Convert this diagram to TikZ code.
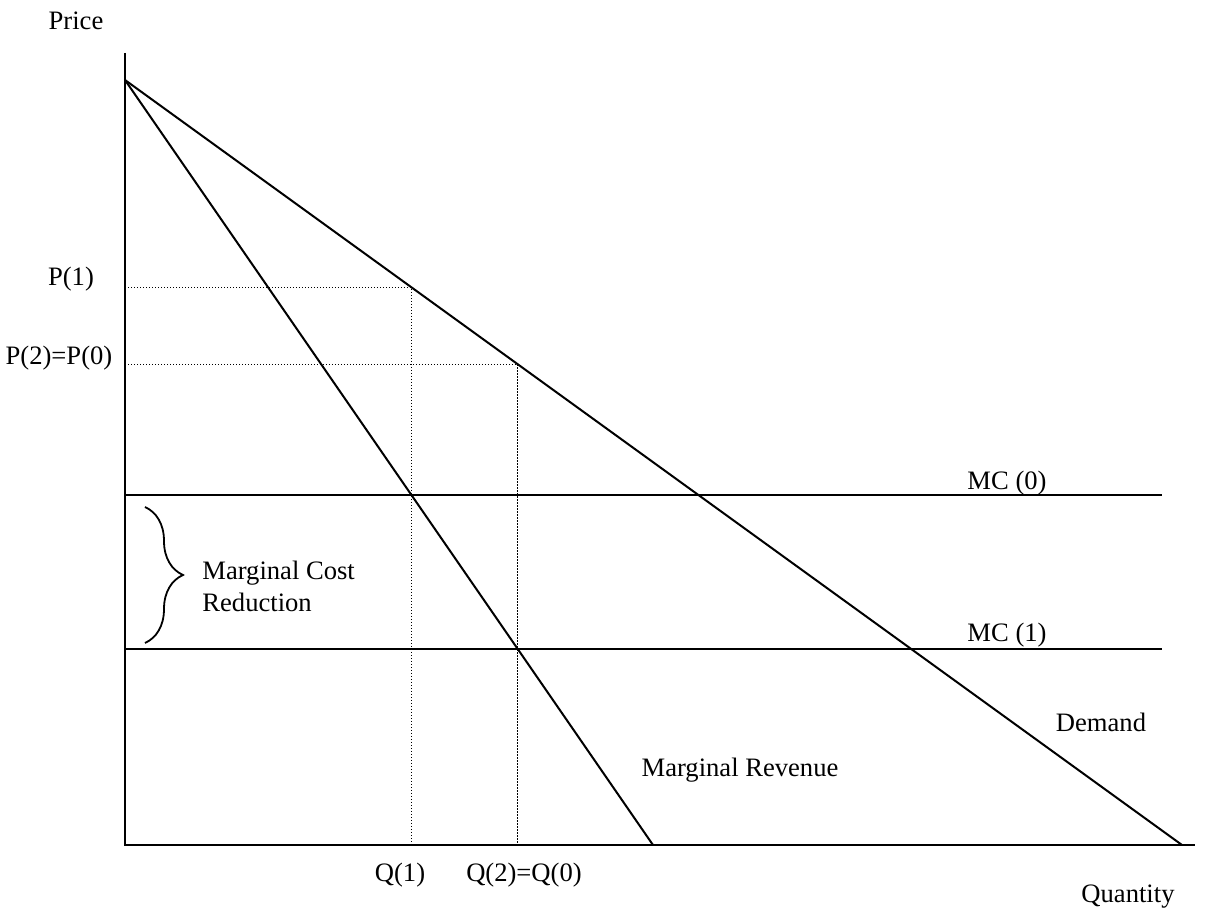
\documentclass[tikz,border=0pt]{standalone}
\usepackage{fontspec}
\setmainfont{Liberation Serif}
\usetikzlibrary{decorations.pathreplacing}

\begin{document}
\begin{tikzpicture}[x=0.5pt, y=-0.5pt,
		curve/.style={line width=1pt},
		guide/.style={line width=0.7pt, dash pattern=on 0.7pt off 0.8pt},
		lbl/.style={font=\fontsize{13.3}{16}\selectfont, inner sep=0pt}
	]
	\useasboundingbox (0,0) rectangle (1207,909);

	\coordinate (O) at (125,845);
	\coordinate (Ytop) at (125,53);
	\coordinate (Xend) at (1195,845);
	\coordinate (A) at (125,80);
	\coordinate (D) at (1182,845);
	\coordinate (MR) at (653,845);
	\coordinate (MCa) at (125,495);
	\coordinate (MCb) at (1162,495);
	\coordinate (MCc) at (125,649);
	\coordinate (MCd) at (1162,649);

	% optimum points
	\coordinate (Q1) at (intersection of A--MR and MCa--MCb);
	\coordinate (Q2) at (intersection of A--MR and MCc--MCd);
	\coordinate (Q1top) at (Q1|-Ytop);
	\coordinate (Q2top) at (Q2|-Ytop);
	\coordinate (P1) at (intersection of A--D and Q1--Q1top);
	\coordinate (P2) at (intersection of A--D and Q2--Q2top);

	\draw[curve] (Ytop) -- (O) -- (Xend);
	\draw[curve] (A) -- (D);
	\draw[curve] (A) -- (MR);
	\draw[curve] (MCa) -- (MCb);
	\draw[curve] (MCc) -- (MCd);

	\draw[guide] (P1-|O) -- (P1) -- (P1|-O);
	\draw[guide] (P2-|O) -- (P2) -- (P2|-O);

	\draw[line width=0.9pt, decorate, decoration={brace, amplitude=19pt, aspect=0.5}] (145,507) -- (145,643);

	\node[lbl] (price) at (76,21) {Price};
	\node[lbl] (quantity) at (1128,897) {Quantity};
	\node[lbl] (p1) at (71,279) {P(1)};
	\node[lbl] (p2) at (59,358) {P(2)=P(0)};
	\node[lbl] (q1) at (400,875) {Q(1)};
	\node[lbl] (q2) at (524,875) {Q(2)=Q(0)};
	\node[lbl] (mc0) at (1007,483) {MC (0)};
	\node[lbl] (mc1) at (1007,635) {MC (1)};
	\node[lbl] (demand) at (1101,722) {Demand};
	\node[lbl] (mrev) at (740,770) {Marginal Revenue};
	\node[lbl, anchor=west, align=left] (mcr) at (202,586) {Marginal Cost\\Reduction};
\end{tikzpicture}
\end{document}
